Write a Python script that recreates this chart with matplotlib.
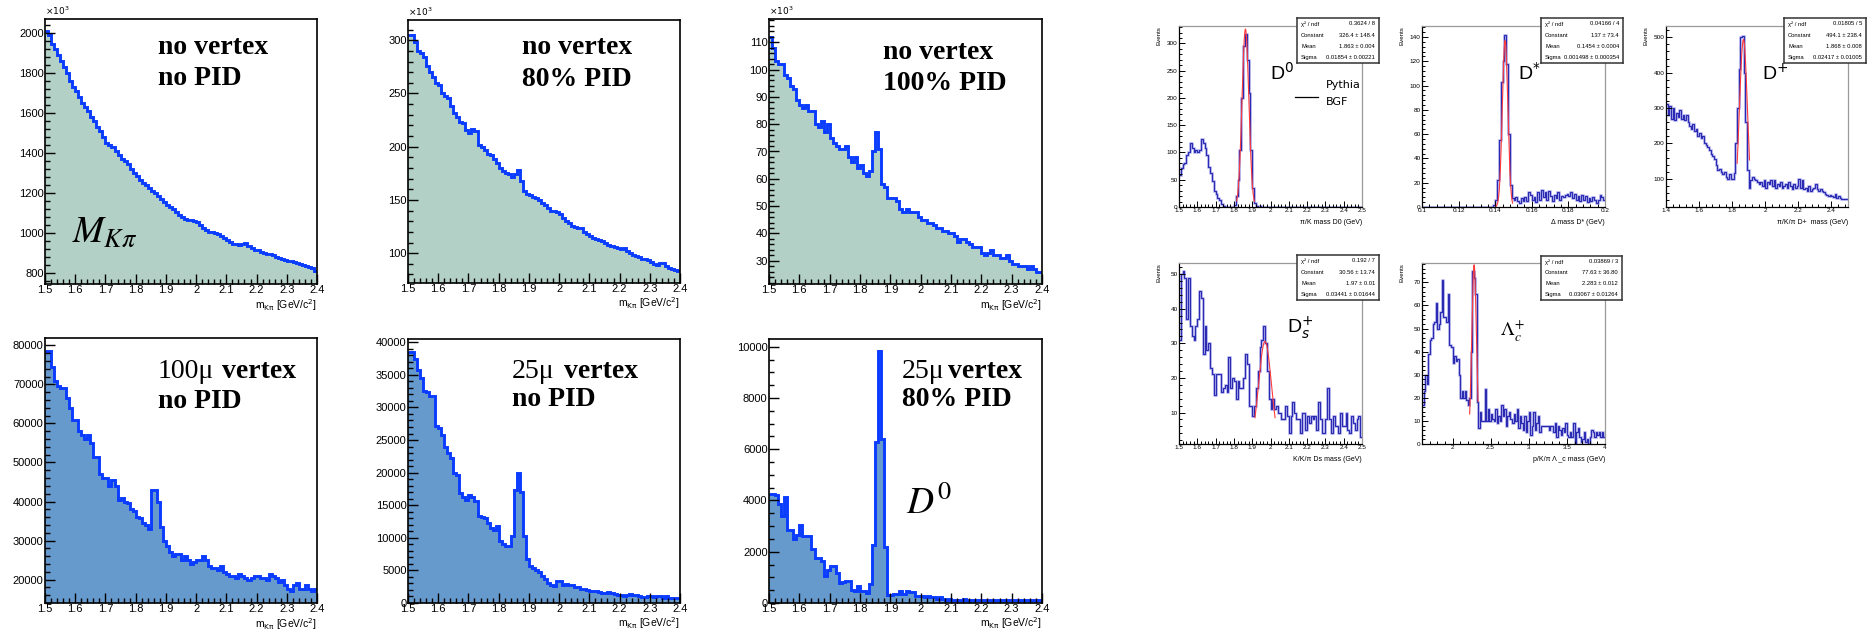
import matplotlib
matplotlib.use("Agg")

import matplotlib.pyplot as plt
import numpy as np
from matplotlib.ticker import AutoMinorLocator, FuncFormatter, MultipleLocator


W_PX, H_PX = 1876, 632
DPI = 100

LINE_BLUE = "#0a3cff"
FILL_GREEN = "#b3d0c6"
FILL_BLUE = "#6699cc"
ROOT_BLUE = "#2a2ab2"
FIT_RED = "#ff3b3b"

SERIF = "Liberation Serif"
SANS = "Liberation Sans"

# ---- left block: m(K pi) spectra, 0.01 GeV bins starting at 1.5 ----
MKPI_START = 1.5
MKPI_WIDTH = 0.01

# x10^3 entries
no_vtx_no_pid = [
    2010, 1990, 1945, 1920, 1890, 1860, 1830, 1800, 1760, 1730,
    1710, 1680, 1650, 1630, 1610, 1580, 1560, 1530, 1510, 1480,
    1450, 1440, 1430, 1410, 1390, 1370, 1360, 1345, 1320, 1300,
    1285, 1265, 1250, 1240, 1225, 1210, 1200, 1185, 1170, 1155,
    1140, 1130, 1120, 1105, 1090, 1080, 1070, 1065, 1062, 1060,
    1055, 1040, 1025, 1012, 1005, 1002, 1000, 995, 985, 975,
    965, 955, 945, 942, 940, 945, 948, 935, 925, 915,
    912, 905, 900, 895, 895, 890, 880, 875, 870, 865,
    860, 858, 852, 848, 845, 840, 835, 828, 825, 808,
]

no_vtx_80_pid = [
    305, 305, 298, 290, 288, 284, 276, 270, 265, 260,
    258, 250, 248, 246, 238, 232, 228, 223, 222, 216,
    213, 217, 215, 202, 200, 197, 193, 192, 188, 185,
    180, 177, 175, 174, 172, 174, 178, 168, 158, 156,
    155, 153, 152, 150, 147, 145, 142, 140, 140, 139,
    137, 133, 130, 128, 126, 125, 124, 124, 120, 118,
    116, 114, 113, 112, 111, 110, 108, 107, 106, 105,
    104, 105, 102, 100, 98, 97, 96, 95, 95, 94,
    92, 90, 89, 91, 91, 88, 86, 85, 84, 83,
]

no_vtx_100_pid = [
    112, 108, 103, 102, 102, 98, 97, 94, 93, 89,
    87, 86, 87, 85, 85, 80, 79, 81, 77, 80,
    75, 73, 72, 71, 71, 72, 68, 66, 68, 64,
    65, 62, 61, 63, 70, 77, 71, 58, 57, 53,
    53, 53, 52, 49, 48, 49, 48, 48, 48, 46,
    45, 45, 44, 44, 43, 42, 42, 41, 41, 40,
    40, 39, 37, 38, 38, 37, 36, 35, 35, 35,
    33, 32, 33, 34, 32, 32, 31, 31, 32, 30,
    29, 29, 28, 28, 28, 27, 28, 27, 26, 26,
]

vtx100_no_pid = [
    78500, 78500, 74500, 71000, 69500, 69000, 69000, 66500, 64000, 61000,
    61000, 58000, 57000, 56000, 57000, 55000, 51500, 51500, 47000, 46000,
    46000, 44000, 45500, 44000, 40500, 41000, 40000, 39500, 38000, 37500,
    36000, 35800, 34500, 34000, 33000, 43000, 43000, 40000, 33500, 30000,
    28500, 27000, 26000, 26500, 26500, 25000, 26000, 25000, 24000, 24500,
    25000, 25000, 26000, 25000, 23500, 23000, 23000, 22500, 23500, 22000,
    21500, 21000, 21000, 20500, 21500, 21000, 20500, 20000, 20500, 21000,
    21000, 20500, 20500, 20000, 21500, 21000, 20500, 19500, 20000, 18500,
    17500, 17000, 18500, 19000, 17500, 17500, 18500, 17500, 17000, 17500,
]

vtx25_no_pid = [
    38500, 38500, 37500, 35800, 34500, 32500, 32300, 31700, 31700, 27200,
    26800, 25800, 24000, 23000, 22200, 20000, 19700, 16800, 16300, 15800,
    16500, 16200, 15600, 13300, 13200, 13000, 12300, 11500, 11200, 11800,
    9500, 9000, 8800, 8700, 10300, 17300, 20000, 17000, 10300, 6800,
    5700, 5400, 5000, 4800, 4200, 3700, 3100, 2800, 2600, 3400,
    3300, 2800, 2900, 2800, 2700, 2400, 2400, 2100, 2200, 2000,
    1900, 1800, 1900, 1700, 1600, 1600, 1700, 1500, 1400, 1300,
    1200, 1000, 1200, 1400, 1300, 1200, 1100, 900, 900, 1000,
    1000, 900, 1000, 1000, 800, 1000, 800, 700, 700, 800,
]

vtx25_80_pid = [
    4250, 4250, 4200, 3850, 3400, 4150, 2850, 2850, 2500, 2650,
    3050, 2600, 2600, 2600, 2100, 1750, 1750, 1620, 1050, 1300,
    1430, 1430, 1170, 780, 800, 840, 840, 520, 450, 670,
    450, 450, 390, 750, 2270, 6300, 9850, 6400, 2180, 330,
    330, 360, 360, 450, 360, 450, 420, 420, 260, 260,
    260, 230, 260, 230, 230, 150, 230, 150, 130, 150,
    130, 130, 130, 130, 150, 130, 120, 130, 100, 130,
    100, 130, 100, 100, 130, 100, 120, 100, 130, 100,
    100, 130, 100, 100, 130, 100, 100, 100, 100, 100,
]

# ---- right block: simulated charm signals with gaussian fits ----
d0_start, d0_width = 1.5, 0.01
d0_counts = [
    58, 72, 78, 80, 96, 100, 117, 108, 100, 105,
    100, 105, 125, 117, 108, 95, 74, 62, 47, 30,
    24, 16, 13, 6, 2, 0, 0, 0, 0, 0,
    3, 20, 50, 105, 200, 295, 318, 270, 210, 105,
    35, 8, 2, 0, 1, 0, 0, 0, 0, 0,
    0, 0, 0, 0, 0, 0, 0, 0, 0, 0,
    0, 0, 0, 0, 0, 0, 0, 0, 0, 0,
    0, 0, 0, 0, 0, 0, 0, 0, 0, 0,
    0, 0, 0, 0, 0, 0, 0, 0, 0, 0,
    0, 0, 0, 0, 0, 0, 0, 0, 0, 0,
]

dstar_start, dstar_width = 0.1, 0.001
dstar_counts = [
    0, 0, 0, 0, 0, 0, 0, 0, 0, 0,
    0, 0, 0, 0, 0, 0, 0, 0, 0, 0,
    0, 0, 0, 0, 0, 0, 0, 0, 0, 0,
    0, 0, 0, 0, 0, 0, 0, 0, 0, 2,
    6, 22, 55, 103, 120, 142, 118, 60, 18, 7,
    6, 8, 5, 3, 7, 5, 8, 5, 12, 10,
    6, 8, 4, 12, 6, 14, 8, 12, 6, 13,
    9, 5, 10, 7, 12, 6, 9, 8, 10, 11,
    9, 12, 7, 11, 6, 9, 5, 10, 6, 9,
    4, 7, 5, 8, 6, 3, 6, 10, 8, 6,
]

dplus_start, dplus_width = 1.4, 0.01
dplus_counts = [
    310, 280, 305, 270, 300, 265, 285, 275, 295, 270,
    280, 265, 280, 260, 250, 240, 255, 235, 240, 220,
    230, 215, 220, 200, 195, 190, 180, 170, 165, 155,
    140, 125, 128, 118, 112, 120, 105, 100, 112, 98,
    100, 115, 200, 300, 410, 500, 505, 400, 260, 125,
    75, 95, 105, 100, 95, 92, 85, 90, 80, 95,
    75, 90, 85, 95, 80, 95, 75, 85, 80, 90,
    75, 80, 85, 75, 90, 80, 70, 85, 75, 80,
    100, 75, 95, 70, 75, 65, 80, 65, 70, 75,
    85, 70, 65, 70, 65, 62, 58, 55, 52, 55,
    50, 48, 58, 45, 50, 45, 42, 44, 42, 42,
]

ds_start, ds_width = 1.5, 0.01
ds_counts = [
    31, 50, 51, 49, 37, 49, 35, 32, 31, 35,
    37, 45, 43, 27, 35, 28, 30, 23, 21, 15,
    21, 21, 21, 16, 17, 18, 16, 26, 17, 20,
    19, 14, 19, 17, 17, 20, 27, 24, 12, 12,
    9, 12, 17, 22, 29, 31, 35, 30, 22, 14,
    11, 14, 11, 12, 10, 10, 8, 8, 12, 9,
    4, 9, 13, 10, 8, 8, 4, 10, 10, 5,
    9, 7, 9, 8, 9, 5, 13, 8, 4, 4,
    8, 17, 8, 4, 9, 6, 6, 4, 10, 6,
    6, 10, 5, 4, 9, 7, 5, 8, 9, 3,
]

lc_start, lc_width = 1.6, 0.02
lc_counts = [
    17, 23, 30, 26, 39, 45, 46, 52, 53, 61,
    50, 52, 57, 71, 55, 55, 53, 65, 43, 42,
    35, 38, 36, 37, 30, 20, 23, 20, 23, 19,
    17, 20, 40, 75, 72, 65, 18, 7, 14, 10,
    10, 24, 10, 15, 10, 13, 11, 10, 15, 9,
    12, 10, 17, 12, 15, 8, 12, 14, 11, 9,
    13, 10, 15, 7, 12, 9, 6, 12, 5, 10,
    14, 4, 8, 14, 6, 9, 12, 5, 8, 8,
    8, 8, 8, 6, 8, 8, 5, 9, 3, 8,
    6, 4, 7, 5, 9, 4, 3, 5, 3, 9,
    0, 5, 7, 3, 1, 2, 5, 1, 2, 0,
    3, 6, 5, 3, 5, 4, 5, 3, 5, 3,
]

# fit results printed in the stat boxes: constant, mean, sigma
stat_names = ["\u03c7\u00b2 / ndf", "Constant", "Mean", "Sigma"]
d0_stats = ["0.3624 / 8", "326.4 \u00b1 148.4", "1.863 \u00b1 0.004", "0.01854 \u00b1 0.00221"]
dstar_stats = ["0.04166 / 4", "137 \u00b1 73.4", "0.1454 \u00b1 0.0004", "0.001498 \u00b1 0.000354"]
dplus_stats = ["0.01805 / 5", "494.1 \u00b1 238.4", "1.868 \u00b1 0.008", "0.02417 \u00b1 0.01005"]
ds_stats = ["0.192 / 7", "30.56 \u00b1 13.74", "1.97 \u00b1 0.01", "0.03441 \u00b1 0.01644"]
lc_stats = ["0.03869 / 3", "77.63 \u00b1 36.80", "2.283 \u00b1 0.012", "0.03067 \u00b1 0.01264"]

d0_fit = [326.4, 1.863, 0.01854]
dstar_fit = [137.0, 0.1454, 0.001498]
dplus_fit = [494.1, 1.868, 0.02417]
ds_fit = [30.56, 1.97, 0.03441]
lc_fit = [77.63, 2.283, 0.03067]

d0_fit_range = [1.815, 1.912]
dstar_fit_range = [0.1405, 0.1495]
dplus_fit_range = [1.83, 1.905]
ds_fit_range = [1.915, 2.025]
lc_fit_range = [2.225, 2.335]


def px_axes(fig, x0, y0, x1, y1):
    return fig.add_axes([x0 / W_PX, 1 - y1 / H_PX, (x1 - x0) / W_PX, (y1 - y0) / H_PX])


def fmt_g(value, _pos):
    return f"{value:g}"


def mkpi_panel(fig, box, counts, fill, ylim, ystep, yminor):
    ax = px_axes(fig, *box)
    edges = MKPI_START + MKPI_WIDTH * np.arange(len(counts) + 1)
    ax.stairs(counts, edges, baseline=0, fill=True, color=fill, lw=0)
    ax.stairs(counts, edges, baseline=None, color=LINE_BLUE, lw=2.1)

    ax.set_xlim(1.5, 2.4)
    ax.set_ylim(*ylim)
    ax.xaxis.set_major_locator(MultipleLocator(0.1))
    ax.xaxis.set_minor_locator(AutoMinorLocator(5))
    ax.xaxis.set_major_formatter(FuncFormatter(fmt_g))
    ax.yaxis.set_major_locator(MultipleLocator(ystep))
    ax.yaxis.set_minor_locator(AutoMinorLocator(yminor))
    ax.tick_params(which="both", direction="in", top=False, right=False,
                   labelsize=8, width=1.0, pad=1)
    ax.tick_params(which="major", length=7)
    ax.tick_params(which="minor", length=3.5)
    for sp in ax.spines.values():
        sp.set_linewidth(1.2)

    ax.text(1.0, -0.078, r"m$_{\mathrm{K\pi}}$ [GeV/c$^2$]", transform=ax.transAxes,
            ha="right", va="center", fontsize=7.5, math_fontfamily="dejavusans")
    return ax


def serif_text(ax, x, y, text, bold=True, size=20):
    ax.text(x, y, text, transform=ax.transAxes, ha="left", va="center",
            family=SERIF, fontweight="bold" if bold else "normal", fontsize=size)


def fit_panel(fig, box, start, width, counts, xlim, ylim, xstep, ystep,
              xlabel, fit, fit_range, stats_box, stats_vals):
    ax = px_axes(fig, *box)
    edges = start + width * np.arange(len(counts) + 1)
    ax.stairs(counts, edges, baseline=None, color="#8c8ce6", lw=1.9, alpha=0.55)
    ax.stairs(counts, edges, baseline=None, color=ROOT_BLUE, lw=0.9)

    const, mean, sigma = fit
    xs = np.linspace(fit_range[0], fit_range[1], 200)
    ax.plot(xs, const * np.exp(-0.5 * ((xs - mean) / sigma) ** 2), color=FIT_RED, lw=0.8)

    ax.set_xlim(*xlim)
    ax.set_ylim(*ylim)
    ax.xaxis.set_major_locator(MultipleLocator(xstep))
    ax.xaxis.set_minor_locator(AutoMinorLocator(5))
    ax.xaxis.set_major_formatter(FuncFormatter(fmt_g))
    ax.yaxis.set_major_locator(MultipleLocator(ystep))
    ax.yaxis.set_minor_locator(AutoMinorLocator(5))
    ax.yaxis.set_major_formatter(FuncFormatter(fmt_g))
    ax.tick_params(which="both", direction="in", top=False, right=False,
                   labelsize=4.6, width=0.7, pad=1)
    ax.tick_params(which="major", length=4.5)
    ax.tick_params(which="minor", length=2.2)
    for side in ("left", "bottom"):
        ax.spines[side].set_linewidth(0.9)
    for side in ("top", "right"):
        ax.spines[side].set_color("#9a9a9a")
        ax.spines[side].set_linewidth(0.9)

    ax.text(-0.108, 1.0, "Events", rotation=90, transform=ax.transAxes,
            ha="center", va="top", fontsize=4.4)
    ax.text(1.0, -0.088, xlabel, transform=ax.transAxes, ha="right", va="center",
            fontsize=5.0)

    sb = px_axes(fig, *stats_box)
    sb.set_xticks([])
    sb.set_yticks([])
    for sp in sb.spines.values():
        sp.set_linewidth(1.1)
        sp.set_color("#333333")
    for i, (name, val) in enumerate(zip(stat_names, stats_vals)):
        yy = 0.87 - i * 0.25
        sb.text(0.05, yy, name, ha="left", va="center", fontsize=4.2)
        sb.text(0.95, yy, val, ha="right", va="center", fontsize=4.2)
    return ax


def main():
    plt.rcParams["font.family"] = [SANS, "DejaVu Sans"]
    fig = plt.figure(figsize=(W_PX / DPI, H_PX / DPI), dpi=DPI)

    # top row: no vertex cut
    ax1 = mkpi_panel(fig, (45, 19, 317, 284), no_vtx_no_pid, FILL_GREEN, (743, 2072), 200, 5)
    ax2 = mkpi_panel(fig, (408, 20, 680, 283), no_vtx_80_pid, FILL_GREEN, (72, 319), 50, 5)
    ax3 = mkpi_panel(fig, (769, 19, 1042, 284), no_vtx_100_pid, FILL_GREEN, (21.5, 118.5), 10, 5)
    for ax in (ax1, ax2, ax3):
        ax.text(0.0, 1.008, r"$\times10^{3}$", transform=ax.transAxes, ha="left",
                va="bottom", fontsize=6.5, math_fontfamily="dejavusans")

    serif_text(ax1, 0.415, 0.894, "no vertex")
    serif_text(ax1, 0.415, 0.774, "no PID")
    ax1.text(0.10, 0.16, r"$M_{K\pi}$", transform=ax1.transAxes, ha="left",
             va="baseline", fontsize=27, math_fontfamily="stix")

    serif_text(ax2, 0.42, 0.894, "no vertex")
    serif_text(ax2, 0.42, 0.772, "80% PID")

    serif_text(ax3, 0.418, 0.872, "no vertex")
    serif_text(ax3, 0.418, 0.758, "100% PID")

    # bottom row: vertex cuts
    ax4 = mkpi_panel(fig, (45, 338, 317, 603), vtx100_no_pid, FILL_BLUE, (14000, 81900), 10000, 5)
    ax5 = mkpi_panel(fig, (408, 339, 680, 603), vtx25_no_pid, FILL_BLUE, (0, 40500), 5000, 5)
    ax6 = mkpi_panel(fig, (769, 339, 1042, 603), vtx25_80_pid, FILL_BLUE, (0, 10300), 2000, 4)

    serif_text(ax4, 0.415, 0.872, "100\u03bc", bold=False)
    serif_text(ax4, 0.652, 0.872, "vertex")
    serif_text(ax4, 0.415, 0.762, "no PID")

    serif_text(ax5, 0.382, 0.875, "25\u03bc", bold=False)
    serif_text(ax5, 0.575, 0.875, "vertex")
    serif_text(ax5, 0.382, 0.769, "no PID")

    serif_text(ax6, 0.487, 0.875, "25\u03bc", bold=False)
    serif_text(ax6, 0.655, 0.875, "vertex")
    serif_text(ax6, 0.487, 0.769, "80% PID")
    ax6.text(0.50, 0.337, r"$D^{0}$", transform=ax6.transAxes, ha="left",
             va="baseline", fontsize=27, math_fontfamily="stix")

    # right block
    r1 = fit_panel(fig, (1179, 26, 1362, 207), d0_start, d0_width, d0_counts,
                   (1.5, 2.5), (0, 332), 0.1, 50, "\u03c0/K mass D0 (GeV)",
                   d0_fit, d0_fit_range, (1297, 18, 1379, 63), d0_stats)
    r1.text(0.497, 0.70, r"D$^{0}$", transform=r1.transAxes, ha="left", va="baseline",
            fontsize=14, math_fontfamily="dejavusans")
    r1.plot([0.634, 0.760], [0.608, 0.608], transform=r1.transAxes, color="black", lw=0.9)
    r1.text(0.80, 0.674, "Pythia", transform=r1.transAxes, ha="left", va="center",
            fontsize=8, family="DejaVu Sans")
    r1.text(0.80, 0.58, "BGF", transform=r1.transAxes, ha="left", va="center",
            fontsize=8, family="DejaVu Sans")

    r2 = fit_panel(fig, (1422, 26, 1605, 207), dstar_start, dstar_width, dstar_counts,
                   (0.1, 0.2), (0, 149), 0.02, 20, "\u0394 mass D* (GeV)",
                   dstar_fit, dstar_fit_range, (1541, 18, 1623, 63), dstar_stats)
    r2.text(0.525, 0.70, r"D$^{*}$", transform=r2.transAxes, ha="left", va="baseline",
            fontsize=14, math_fontfamily="dejavusans")

    r3 = fit_panel(fig, (1666, 26, 1848, 207), dplus_start, dplus_width, dplus_counts,
                   (1.4, 2.5), (20, 532), 0.2, 100, "\u03c0/K/\u03c0 D+  mass (GeV)",
                   dplus_fit, dplus_fit_range, (1784, 18, 1866, 63), dplus_stats)
    r3.text(0.527, 0.70, r"D$^{+}$", transform=r3.transAxes, ha="left", va="baseline",
            fontsize=14, math_fontfamily="dejavusans")

    r4 = fit_panel(fig, (1179, 263, 1362, 444), ds_start, ds_width, ds_counts,
                   (1.5, 2.5), (0.9, 53.2), 0.1, 10, "K/K/\u03c0 Ds mass (GeV)",
                   ds_fit, ds_fit_range, (1297, 255, 1379, 300), ds_stats)
    r4.text(0.59, 0.613, r"D$^{+}_{s}$", transform=r4.transAxes, ha="left", va="baseline",
            fontsize=14, math_fontfamily="dejavusans")

    r5 = fit_panel(fig, (1422, 263, 1605, 444), lc_start, lc_width, lc_counts,
                   (1.6, 4.0), (0, 78.4), 0.5, 10, "p/K/\u03c0 \u039b _c mass (GeV)",
                   lc_fit, lc_fit_range, (1541, 256, 1622, 300), lc_stats)
    r5.text(0.426, 0.60, r"$\Lambda^{+}_{c}$", transform=r5.transAxes, ha="left",
            va="baseline", fontsize=14, math_fontfamily="stix")

    fig.savefig("out.png", dpi=DPI)
    plt.close(fig)


if __name__ == "__main__":
    main()
